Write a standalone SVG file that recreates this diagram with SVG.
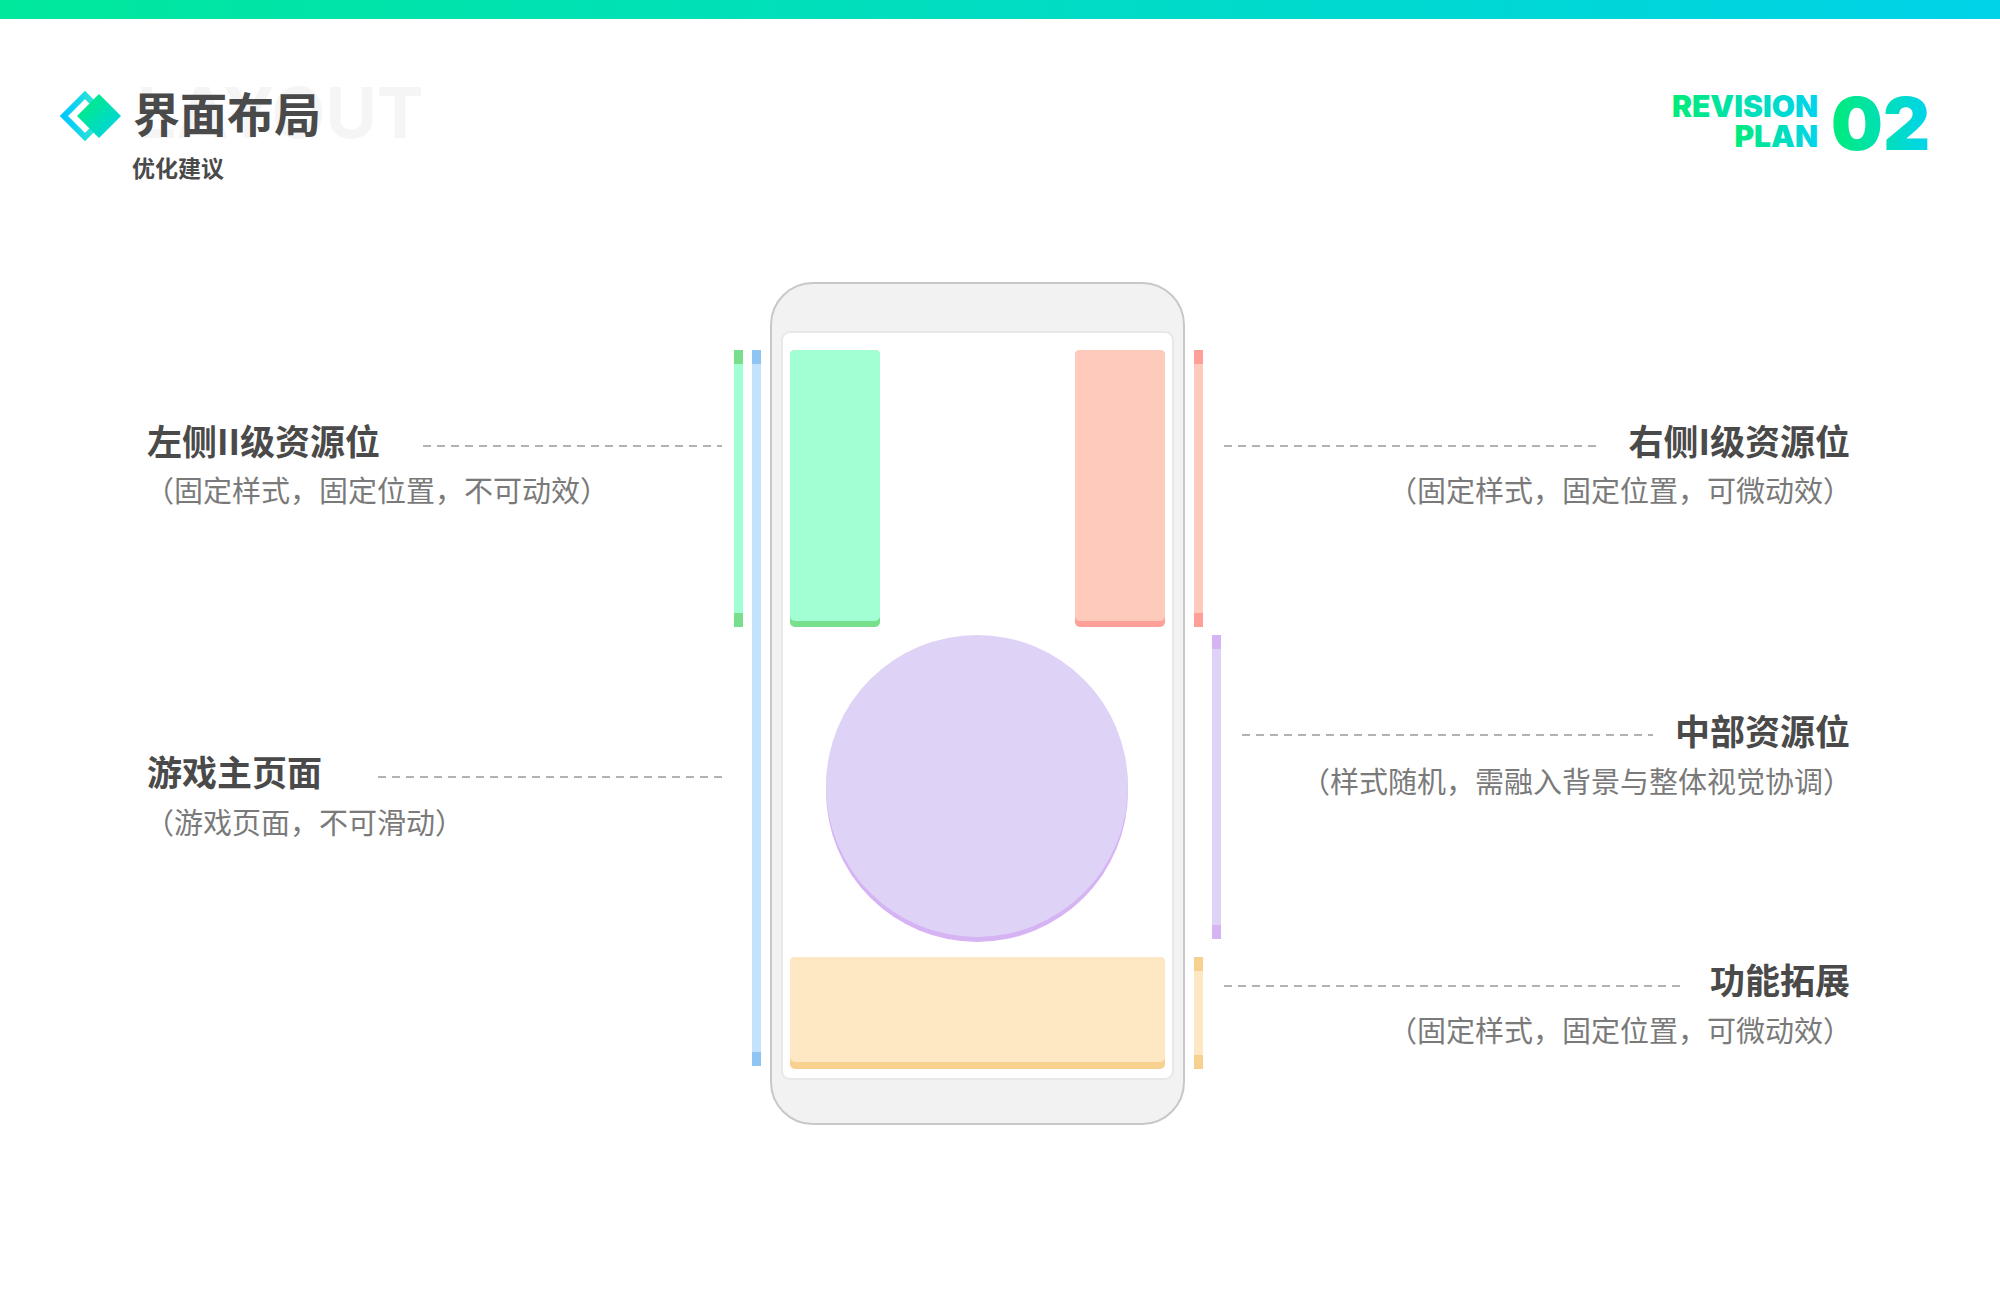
<svg xmlns="http://www.w3.org/2000/svg" width="2000" height="1302" viewBox="0 0 2000 1302">
<defs>
<linearGradient id="bar" x1="0" x2="1" y1="0" y2="0"><stop offset="0" stop-color="#00e89c"/><stop offset="1" stop-color="#00d2e8"/></linearGradient>
<linearGradient id="g2" x1="0" x2="1" y1="0" y2="1"><stop offset="0" stop-color="#00f070"/><stop offset="1" stop-color="#00d0f0"/></linearGradient>
<linearGradient id="g3" x1="0" x2="1" y1="0" y2="0"><stop offset="0" stop-color="#00ec78"/><stop offset="1" stop-color="#00d4ee"/></linearGradient>
<linearGradient id="g4" x1="0" x2="1" y1="0" y2="0"><stop offset="0" stop-color="#00c8ff"/><stop offset="1" stop-color="#40f0c0"/></linearGradient>
</defs>
<style>
.t{font-family:"Noto Sans CJK SC","Noto Sans",sans-serif;fill:#4a4a4a;font-weight:bold;font-size:35px}
.s{font-family:"Noto Sans CJK SC","Noto Sans",sans-serif;fill:#7a7a7a;font-size:29px}
.d{stroke:#999;stroke-width:1.5;stroke-dasharray:8 6;fill:none}
</style>
<rect width="2000" height="1302" fill="#fff"/>
<rect width="2000" height="19" fill="url(#bar)"/>
<text x="137" y="138" font-family="Inter,'Liberation Sans',sans-serif" font-weight="bold" font-size="70" fill="#f5f5f5">LAYOUT</text>
<g id="logo">
<path d="M85 95 L106 116 L85 137 L64 116 Z" fill="none" stroke="url(#g4)" stroke-width="6"/>
<path d="M99 94 L121 116 L99 138 L77 116 Z" fill="url(#g2)"/>
</g>
<text x="133" y="132" font-family="'Noto Sans CJK SC',sans-serif" font-weight="bold" font-size="47" fill="#4a4a4a">界面布局</text>
<text x="132" y="177" font-family="'Noto Sans CJK SC',sans-serif" font-weight="bold" font-size="23" fill="#4a4a4a">优化建议</text>
<g id="plan" font-family="Inter,'Liberation Sans',sans-serif" font-weight="900">
<text x="1818" y="117" font-size="30" text-anchor="end" fill="url(#g3)">REVISION</text>
<text x="1818" y="147" font-size="30" text-anchor="end" fill="url(#g3)">PLAN</text>
<text x="1831" y="150" font-size="73" fill="url(#g3)">02</text>
</g>
<g id="phone">
<rect x="771" y="283" width="413" height="841" rx="42" fill="#f2f2f2" stroke="#c8c8c8" stroke-width="2"/>
<rect x="782" y="332" width="391" height="747" rx="8" fill="#fff" stroke="#e8e8e8" stroke-width="2"/>
</g>
<g id="left-res">
<rect x="790" y="350" width="90" height="277" rx="5" fill="#78e08c"/>
<rect x="790" y="350" width="90" height="271" rx="5" fill="#a2ffd4"/>
</g>
<g id="right-res">
<rect x="1075" y="350" width="90" height="277" rx="5" fill="#ffa098"/>
<rect x="1075" y="350" width="90" height="271" rx="5" fill="#fecabc"/>
</g>
<g id="center-res">
<circle cx="977" cy="791" r="151" fill="#d6b4f4"/>
<circle cx="977" cy="786" r="151" fill="#ded2f6"/>
</g>
<g id="func">
<rect x="790" y="957" width="375" height="112" rx="5" fill="#f8d090"/>
<rect x="790" y="957" width="375" height="105" rx="5" fill="#fee8c4"/>
</g>
<g id="bars">
<rect x="734" y="350" width="9" height="277" fill="#a2ffd4"/><rect x="734" y="350" width="9" height="14" fill="#78e08c"/><rect x="734" y="613" width="9" height="14" fill="#78e08c"/>
<rect x="752" y="350" width="9" height="716" fill="#c4e2fe"/><rect x="752" y="350" width="9" height="14" fill="#90c4f4"/><rect x="752" y="1052" width="9" height="14" fill="#90c4f4"/>
<rect x="1194" y="350" width="9" height="277" fill="#fecabc"/><rect x="1194" y="350" width="9" height="14" fill="#ffa098"/><rect x="1194" y="613" width="9" height="14" fill="#ffa098"/>
<rect x="1212" y="635" width="9" height="304" fill="#ded2f6"/><rect x="1212" y="635" width="9" height="14" fill="#d6b4f4"/><rect x="1212" y="925" width="9" height="14" fill="#d6b4f4"/>
<rect x="1194" y="957" width="9" height="112" fill="#fee8c4"/><rect x="1194" y="957" width="9" height="14" fill="#f8d090"/><rect x="1194" y="1055" width="9" height="14" fill="#f8d090"/>
</g>
<g id="connectors">
<path class="d" d="M423 446H722"/>
<path class="d" d="M378 777H722"/>
<path class="d" d="M1224 446H1602"/>
<path class="d" d="M1242 735H1653"/>
<path class="d" d="M1224 986H1684"/>
</g>
<g id="label-left"><text class="t" x="147" y="455">左侧II级资源位</text><text class="s" x="145" y="502">（固定样式，固定位置，不可动效）</text></g>
<g id="label-game"><text class="t" x="147" y="786">游戏主页面</text><text class="s" x="145" y="834">（游戏页面，不可滑动）</text></g>
<g id="label-right" text-anchor="end"><text class="t" x="1850" y="455">右侧I级资源位</text><text class="s" x="1852" y="502">（固定样式，固定位置，可微动效）</text></g>
<g id="label-center" text-anchor="end"><text class="t" x="1850" y="745">中部资源位</text><text class="s" x="1852" y="793">（样式随机，需融入背景与整体视觉协调）</text></g>
<g id="label-func" text-anchor="end"><text class="t" x="1850" y="994">功能拓展</text><text class="s" x="1852" y="1042">（固定样式，固定位置，可微动效）</text></g>
</svg>
